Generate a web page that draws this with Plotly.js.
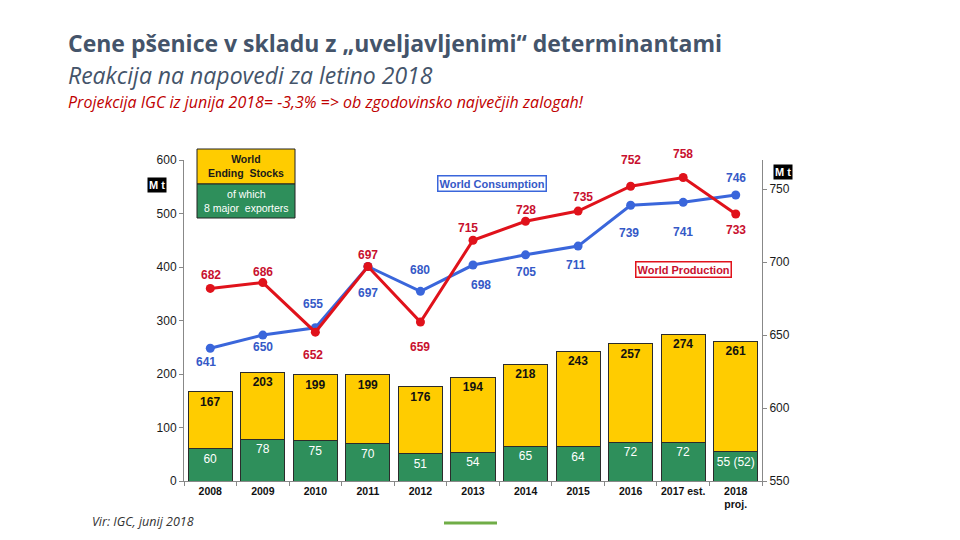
<!DOCTYPE html>
<html>
<head>
<meta charset="utf-8">
<script src="https://cdn.plot.ly/plotly-3.0.1.min.js"></script>
<style>
  html, body { margin: 0; padding: 0; background: #ffffff; }
  #chart { width: 960px; height: 540px; }
</style>
</head>
<body>
<div id="chart"></div>
<script>
// Marketing years
const years = ['2008', '2009', '2010', '2011', '2012', '2013', '2014', '2015', '2016', '2017 est.', '2018<br>proj.'];

// World ending stocks (Mt) and the part held by the 8 major exporters
const endingStocks = [167, 203, 199, 199, 176, 194, 218, 243, 257, 274, 261];
const majorExporters = [60, 78, 75, 70, 51, 54, 65, 64, 72, 72, 55];
const previousExporters2018 = 52;

// World production and consumption (Mt)
const production = [682, 686, 652, 697, 659, 715, 728, 735, 752, 758, 733];
const consumption = [641, 650, 655, 697, 680, 698, 705, 711, 739, 741, 746];

// Label offsets in pixels (vertical, horizontal) for the line values
const prodShiftY = [13, 11, -23, 12, -25, 12, 11, 14, 26, 24, -16];
const prodShiftX = [1, 0, -2, 0, 0, -5, 0, 5, 0, 0, 0];
const consShiftY = [-14, -12, 24, -26, 21, -20, -17, -19, -28, -30, 17];
const consShiftX = [-4, 0, -2, 0, 0, 8, 0, -2, -2, 0, 0];

const RED = '#E0121B';
const RED_TXT = '#C8102E';
const BLUE = '#3A66DB';
const BLUE_TXT = '#3559C7';
const YELLOW = '#FFCC00';
const GREEN = '#2E8F5B';

// Plot area in pixels
const L = 184, R = 762, T = 160, B = 481;
const px = x => (x - L) / (R - L);
const py = y => (B - y) / (B - T);

const restOfStocks = endingStocks.map((v, i) => v - majorExporters[i]);
const exporterLabels = majorExporters.map(String);
exporterLabels[exporterLabels.length - 1] = majorExporters[majorExporters.length - 1] + ' (' + previousExporters2018 + ')';

const barFont = { family: 'Liberation Sans, Arial, sans-serif', size: 12 };

const traces = [
  {
    type: 'bar', x: years, y: majorExporters, yaxis: 'y',
    marker: { color: GREEN, line: { color: '#2b2b2b', width: 1 } },
    text: exporterLabels, textposition: 'inside', insidetextanchor: 'end',
    textfont: Object.assign({ color: '#ffffff' }, barFont),
    hoverinfo: 'skip'
  },
  {
    type: 'bar', x: years, y: restOfStocks, yaxis: 'y',
    marker: { color: YELLOW, line: { color: '#2b2b2b', width: 1 } },
    text: endingStocks.map(String), textposition: 'inside', insidetextanchor: 'end',
    textfont: Object.assign({ color: '#111111', weight: 700 }, barFont),
    hoverinfo: 'skip'
  },
  {
    type: 'scatter', mode: 'lines+markers', x: years, y: consumption, yaxis: 'y2',
    line: { color: BLUE, width: 3 }, marker: { color: BLUE, size: 9 }, hoverinfo: 'skip'
  },
  {
    type: 'scatter', mode: 'lines+markers', x: years, y: production, yaxis: 'y2',
    line: { color: RED, width: 3 }, marker: { color: RED, size: 9 }, hoverinfo: 'skip'
  }
];

const lblFont = (c) => ({ family: 'Liberation Sans, Arial, sans-serif', size: 12, color: c, weight: 700 });

// Value labels for the two lines (x given as category index)
const annotations = [];
production.forEach((v, i) => annotations.push({
  x: i, y: v, xref: 'x', yref: 'y2', text: String(v), showarrow: false,
  yshift: prodShiftY[i], xshift: prodShiftX[i], font: lblFont(RED_TXT)
}));
consumption.forEach((v, i) => annotations.push({
  x: i, y: v, xref: 'x', yref: 'y2', text: String(v), showarrow: false,
  yshift: consShiftY[i], xshift: consShiftX[i], font: lblFont(BLUE_TXT)
}));

// Headings
const headFont = 'Open Sans, Noto Sans, sans-serif';
annotations.push(
  { xref: 'paper', yref: 'paper', x: px(66), y: py(43), xanchor: 'left', yanchor: 'middle', showarrow: false,
    text: '<b>Cene pšenice v skladu z „uveljavljenimi“ determinantami</b>',
    font: { family: headFont, size: 23, color: '#44546A' } },
  { xref: 'paper', yref: 'paper', x: px(66), y: py(75), xanchor: 'left', yanchor: 'middle', showarrow: false,
    text: '<i>Reakcija na napovedi za letino 2018</i>',
    font: { family: headFont, size: 23, color: '#44546A' } },
  { xref: 'paper', yref: 'paper', x: px(66), y: py(102), xanchor: 'left', yanchor: 'middle', showarrow: false,
    text: '<i>Projekcija IGC iz junija 2018= -3,3% => ob zgodovinsko največjih zalogah!</i>',
    font: { family: headFont, size: 16, color: '#C00000' } },
  { xref: 'paper', yref: 'paper', x: px(90), y: py(521), xanchor: 'left', yanchor: 'middle', showarrow: false,
    text: '<i>Vir: IGC, junij 2018</i>',
    font: { family: headFont, size: 12.5, color: '#333333' } }
);

// Unit tags
const unitTag = (cx, cy) => ({
  xref: 'paper', yref: 'paper', x: px(cx), y: py(cy), xanchor: 'center', yanchor: 'middle', showarrow: false,
  text: '<b>M t</b>', bgcolor: '#000000', borderpad: 1,
  font: { family: 'Liberation Sans, Arial, sans-serif', size: 11, color: '#ffffff' }
});
annotations.push(unitTag(157, 185), unitTag(783, 172));

// Stocks key
annotations.push(
  { xref: 'paper', yref: 'paper', x: px(246), y: py(166.5), xanchor: 'center', yanchor: 'middle', showarrow: false,
    text: '<b>World<br>Ending  Stocks</b>',
    font: { family: 'Liberation Sans, Arial, sans-serif', size: 10.5, color: '#1a1a1a' } },
  { xref: 'paper', yref: 'paper', x: px(246), y: py(201), xanchor: 'center', yanchor: 'middle', showarrow: false,
    text: 'of which<br>8 major  exporters',
    font: { family: 'Liberation Sans, Arial, sans-serif', size: 10.5, color: '#ffffff' } }
);

// Series tags
annotations.push(
  { xref: 'paper', yref: 'paper', x: px(492), y: py(183), xanchor: 'center', yanchor: 'middle', showarrow: false,
    text: '<b>World Consumption</b>', bgcolor: '#ffffff', bordercolor: BLUE, borderwidth: 1.5, borderpad: 1,
    font: { family: 'Liberation Sans, Arial, sans-serif', size: 11, color: BLUE_TXT } },
  { xref: 'paper', yref: 'paper', x: px(683), y: py(269), xanchor: 'center', yanchor: 'middle', showarrow: false,
    text: '<b>World Production</b>', bgcolor: '#ffffff', bordercolor: RED, borderwidth: 1.5, borderpad: 1,
    font: { family: 'Liberation Sans, Arial, sans-serif', size: 11, color: RED_TXT } }
);

const shapes = [
  { type: 'rect', xref: 'paper', yref: 'paper', x0: px(197), x1: px(295), y0: py(184), y1: py(149),
    fillcolor: YELLOW, line: { color: '#222222', width: 1 }, layer: 'below' },
  { type: 'rect', xref: 'paper', yref: 'paper', x0: px(197), x1: px(295), y0: py(218), y1: py(184),
    fillcolor: GREEN, line: { color: '#222222', width: 1 }, layer: 'below' },
  { type: 'line', xref: 'paper', yref: 'paper', x0: px(444), x1: px(497), y0: py(523), y1: py(523),
    line: { color: '#70AD47', width: 3 } }
];

const tickFont = { family: 'Liberation Sans, Arial, sans-serif', size: 12, color: '#1a1a1a' };

const layout = {
  width: 960, height: 540,
  margin: { l: L, r: 960 - R, t: T, b: 540 - B },
  paper_bgcolor: '#ffffff', plot_bgcolor: '#ffffff',
  showlegend: false,
  barmode: 'stack', bargap: 0.16,
  xaxis: {
    type: 'category', range: [-0.5, years.length - 0.5], autorange: false,
    showgrid: false, zeroline: false,
    showline: true, linecolor: '#888888', linewidth: 1,
    ticks: 'outside', tickson: 'boundaries', ticklen: 4, tickcolor: '#888888',
    tickangle: 0,
    tickfont: { family: tickFont.family, size: 10.5, color: '#111111', weight: 700 },
    fixedrange: true
  },
  yaxis: {
    range: [0, 600], dtick: 100, showgrid: false, zeroline: false,
    showline: true, linecolor: '#888888', linewidth: 1,
    ticks: 'outside', ticklen: 4, tickcolor: '#888888',
    tickfont: tickFont, fixedrange: true
  },
  yaxis2: {
    overlaying: 'y', side: 'right', range: [550, 770],
    tickvals: [550, 600, 650, 700, 750], showgrid: false, zeroline: false,
    showline: true, linecolor: '#888888', linewidth: 1,
    ticks: 'outside', ticklen: 4, tickcolor: '#888888',
    tickfont: tickFont, fixedrange: true
  },
  annotations: annotations,
  shapes: shapes
};

Plotly.newPlot('chart', traces, layout, { displayModeBar: false, staticPlot: true });
</script>
</body>
</html>
